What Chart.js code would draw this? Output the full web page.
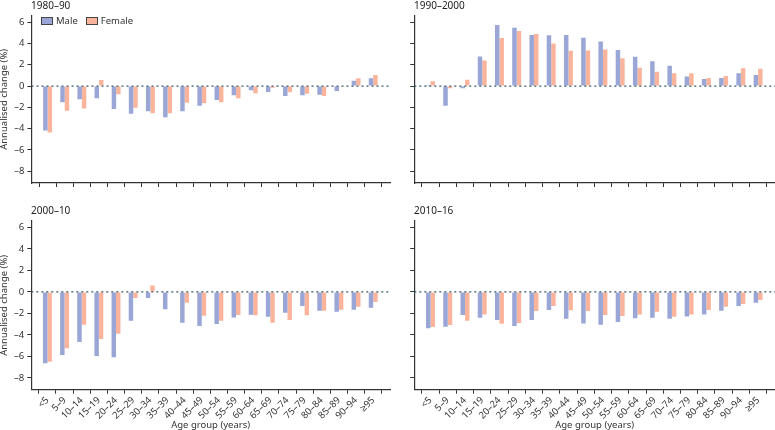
<!DOCTYPE html>
<html>
<head>
<meta charset="utf-8">
<script src="https://cdn.jsdelivr.net/npm/chart.js@4"></script>
<style>
  body { margin: 0; background: #fff; width: 775px; height: 430px; position: relative; overflow: hidden; font-family: "Noto Sans", sans-serif; }
  canvas { position: absolute; }
  .ptitle { position: absolute; font-size: 10px; color: #222; line-height: 10px; }
  .legend { position: absolute; left: 41px; top: 14px; font-size: 9.5px; color: #333; display: flex; align-items: center; }
  .legend span.box { display: inline-block; width: 10px; height: 6px; border: 1px solid #444; margin-right: 3px; }
  .legend span.lbl { margin-right: 8px; }
</style>
</head>
<body>
<canvas id="c1" width="392" height="200" style="left:0;top:0"></canvas>
<canvas id="c2" width="391" height="200" style="left:384px;top:0"></canvas>
<canvas id="c3" width="392" height="230" style="left:0;top:200px"></canvas>
<canvas id="c4" width="391" height="230" style="left:384px;top:200px"></canvas>

<div class="ptitle" style="left:31px;top:0px">1980–90</div>
<div class="ptitle" style="left:414px;top:0px">1990–2000</div>
<div class="ptitle" style="left:31px;top:205px">2000–10</div>
<div class="ptitle" style="left:414px;top:205px">2010–16</div>

<div class="legend">
  <span class="box" style="background:#99a6d6"></span><span class="lbl">Male</span>
  <span class="box" style="background:#fbb49c"></span><span class="lbl">Female</span>
</div>

<script>
// ── DONNÉES ──
const ageGroups = ["<5", "5–9", "10–14", "15–19", "20–24", "25–29", "30–34", "35–39", "40–44", "45–49",
                   "50–54", "55–59", "60–64", "65–69", "70–74", "75–79", "80–84", "85–89", "90–94", "≥95"];

const male1980   = [-4.17, -1.52, -1.24, -1.15, -2.15, -2.61, -2.36, -2.92, -2.36, -1.84,
                    -1.31, -0.87, -0.40, -0.56, -0.93, -0.87, -0.81, -0.47, 0.50, 0.72];
const female1980 = [-4.36, -2.33, -2.12, 0.56, -0.78, -2.05, -2.55, -2.55, -1.56, -1.62,
                    -1.52, -1.15, -0.68, -0.16, -0.59, -0.72, -0.93, -0.03, 0.72, 1.03];

const male1990   = [0.09, -1.84, -0.22, 2.77, 5.72, 5.48, 4.79, 4.76, 4.79, 4.54,
                    4.17, 3.39, 2.74, 2.33, 1.90, 0.90, 0.65, 0.75, 1.21, 1.03];
const female1990 = [0.44, -0.22, 0.59, 2.40, 4.51, 5.16, 4.88, 3.98, 3.30, 3.33,
                    3.42, 2.61, 1.71, 1.34, 1.21, 1.21, 0.75, 0.93, 1.68, 1.62];

const male2000   = [-6.64, -5.86, -4.65, -5.96, -6.08, -2.68, -0.56, -1.62, -2.87, -3.18,
                    -2.99, -2.37, -2.12, -2.31, -1.93, -1.31, -1.75, -1.84, -1.65, -1.47];
const female2000 = [-6.49, -5.24, -3.06, -4.37, -3.90, -0.56, 0.59, -0.06, -1.00, -2.21,
                    -2.68, -2.15, -2.18, -2.87, -2.62, -2.18, -1.75, -1.65, -1.37, -0.94];

const male2010   = [-3.37, -3.24, -2.15, -2.40, -2.62, -3.18, -2.62, -1.68, -2.49, -2.93,
                    -3.06, -2.81, -2.46, -2.40, -2.49, -2.28, -2.09, -1.75, -1.31, -1.00];
const female2010 = [-3.27, -3.09, -2.68, -2.09, -2.96, -2.90, -1.78, -1.31, -1.71, -1.78,
                    -2.15, -2.25, -2.09, -1.84, -2.31, -2.09, -1.68, -1.37, -1.12, -0.75];

const yTicks = [-8, -6, -4, -2, 0, 2, 4, 6];

// ── STYLE ──
const MALE_COLOR   = "#99a6d6";
const FEMALE_COLOR = "#fbb49c";
const AXIS_COLOR   = "#333";
const FONT = "'Noto Sans', sans-serif";

// ligne zéro pointillée
const zeroLine = {
    id: "zeroLine",
    afterDatasetsDraw(chart) {
        const { ctx, chartArea, scales } = chart;
        const y = scales.y.getPixelForValue(0);
        ctx.save();
        ctx.strokeStyle = "#35596a";
        ctx.lineWidth = 1.2;
        ctx.setLineDash([2, 3]);
        ctx.beginPath();
        ctx.moveTo(chartArea.left, y);
        ctx.lineTo(chartArea.right, y);
        ctx.stroke();
        ctx.restore();
    }
};

function toPoints(values) {
    return values.map((v, i) => ({ x: i, y: v }));
}

function makePanel(id, male, female, opts) {
    const ctx = document.getElementById(id).getContext("2d");
    return new Chart(ctx, {
        type: "bar",
        data: {
            datasets: [
                {
                    label: "Male",
                    data: toPoints(male),
                    backgroundColor: MALE_COLOR,
                    borderWidth: 0,
                    categoryPercentage: 0.52,
                    barPercentage: 1.0
                },
                {
                    label: "Female",
                    data: toPoints(female),
                    backgroundColor: FEMALE_COLOR,
                    borderWidth: 0,
                    categoryPercentage: 0.52,
                    barPercentage: 1.0
                }
            ]
        },
        options: {
            responsive: false,
            devicePixelRatio: 1,
            animation: false,
            layout: { padding: { left: 0, top: opts.top, right: opts.right, bottom: 0 } },
            scales: {
                x: {
                    type: "linear",
                    min: -0.94,
                    max: 19.98,
                    offset: false,
                    afterFit: s => { s.height = opts.xHeight; },
                    grid: { drawOnChartArea: false, drawTicks: true, tickLength: 4, tickColor: AXIS_COLOR, tickWidth: 1 },
                    border: { color: AXIS_COLOR, width: 1.2 },
                    ticks: {
                        stepSize: 1,
                        includeBounds: false,
                        autoSkip: false,
                        display: opts.showX,
                        maxRotation: 45,
                        minRotation: 45,
                        padding: 1,
                        color: "#333",
                        font: { family: FONT, size: 9.5 },
                        callback: v => ageGroups[v] !== undefined ? ageGroups[v] : ""
                    },
                    title: {
                        display: opts.showX,
                        text: "Age group (years)",
                        color: "#333",
                        font: { family: FONT, size: 9.5, lineHeight: 1 },
                        padding: { top: 0, bottom: 0 }
                    }
                },
                y: {
                    min: -9.1,
                    max: 6.6,
                    afterFit: s => { s.width = opts.yWidth; },
                    afterBuildTicks: s => { s.ticks = yTicks.map(v => ({ value: v })); },
                    grid: { drawOnChartArea: false, drawTicks: true, tickLength: 4, tickColor: AXIS_COLOR, tickWidth: 1 },
                    border: { color: AXIS_COLOR, width: 1.2 },
                    ticks: {
                        display: opts.showY,
                        padding: 3,
                        color: "#333",
                        font: { family: FONT, size: 9.5 },
                        callback: v => v < 0 ? "–" + Math.abs(v) : String(v)
                    },
                    title: {
                        display: opts.showY,
                        text: "Annualised change (%)",
                        color: "#333",
                        font: { family: FONT, size: 9.5, lineHeight: 1 },
                        padding: { top: 0, bottom: 0 }
                    }
                }
            },
            plugins: {
                legend: { display: false },
                tooltip: { enabled: false }
            }
        },
        plugins: [zeroLine]
    });
}

// ── PANNEAUX ──
makePanel("c1", male1980, female1980, { top: 15.7, right: 2, xHeight: 17,   yWidth: 31.5, showX: false, showY: true });
makePanel("c2", male1990, female1990, { top: 15.7, right: 0, xHeight: 17,   yWidth: 30.3, showX: false, showY: false });
makePanel("c3", male2000, female2000, { top: 21,   right: 2, xHeight: 40.3, yWidth: 31.3, showX: true,  showY: true });
makePanel("c4", male2010, female2010, { top: 21,   right: 0, xHeight: 40.3, yWidth: 30.3, showX: true,  showY: false });
</script>
</body>
</html>
